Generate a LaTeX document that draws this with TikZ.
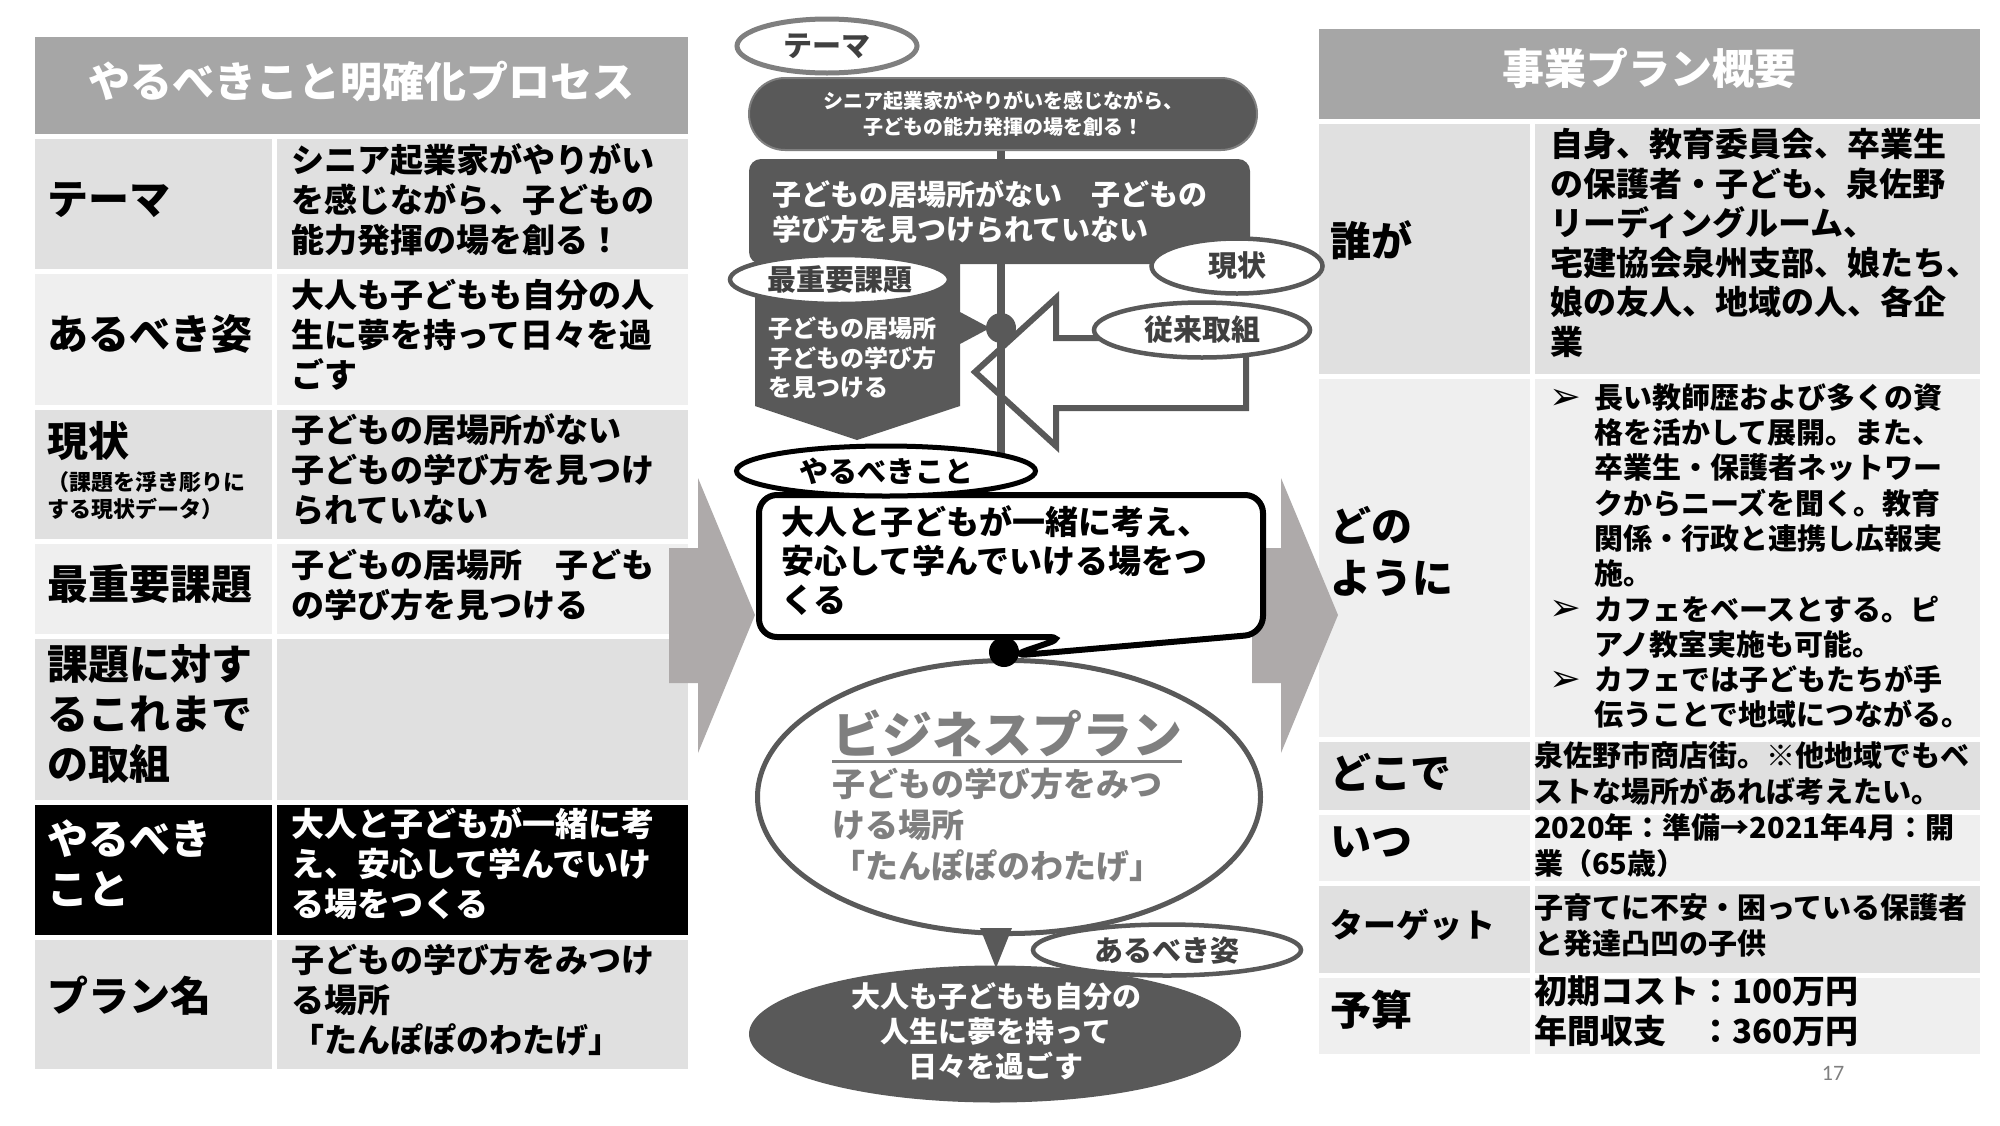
\documentclass[tikz,border=0pt]{standalone}
\usepackage{fontspec}
\setmainfont{Noto Sans CJK JP}
\newfontfamily\dejavu{DejaVu Sans}
\newfontfamily\carlito{Carlito}
\usetikzlibrary{shapes.geometric}
\definecolor{dk}{RGB}{89,89,89}
\definecolor{md}{RGB}{127,127,127}
\definecolor{hdr}{RGB}{166,166,166}
\definecolor{cA}{RGB}{224,224,224}
\definecolor{cB}{RGB}{239,239,239}
\definecolor{arr}{RGB}{174,170,170}
\definecolor{txg}{RGB}{64,64,64}
\newcommand\fsz[2]{\fontsize{#1}{#2}\selectfont\bfseries}
\begin{document}
\begin{tikzpicture}[x=1pt,y=-1pt,
  cell/.style={draw=white, line width=5pt},
  txt/.style={inner sep=0pt, anchor=west, align=left},
  lbl/.style={ellipse, draw=dk, line width=4.5pt, fill=white, inner sep=0pt, text=txg, font=\fsz{29}{34}},
  conn/.style={draw=dk, line width=8pt},
  bigarrow/.style={fill=arr},
  bul/.style={inner sep=0pt, anchor=west, font=\dejavu\fontsize{38}{40}\selectfont},
]
\path[use as bounding box, fill=white] (0,0) rectangle (2000,1125);

% ---------- left table ----------
\path[cell, fill=hdr] (32,34) rectangle (690,136);
\path[cell, fill=cA] (32,136) rectangle (274,271);  \path[cell, fill=cA] (274,136) rectangle (690,271);
\path[cell, fill=cB] (32,271) rectangle (274,407);  \path[cell, fill=cB] (274,271) rectangle (690,407);
\path[cell, fill=cA] (32,407) rectangle (274,541);  \path[cell, fill=cA] (274,407) rectangle (690,541);
\path[cell, fill=cB] (32,541) rectangle (274,636);  \path[cell, fill=cB] (274,541) rectangle (690,636);
\path[cell, fill=cA] (32,636) rectangle (274,802);  \path[cell, fill=cA] (274,636) rectangle (690,802);
\path[cell, fill=black] (32,802) rectangle (274,937); \path[cell, fill=black] (274,802) rectangle (690,937);
\path[cell, fill=cA] (32,937) rectangle (274,1071); \path[cell, fill=cA] (274,937) rectangle (690,1071);

\node[inner sep=0pt, text=white, font=\fsz{42}{48}] (lhead) at (361,81) {やるべきこと明確化プロセス};
\node[txt, font=\fsz{41}{50}] (l1) at (47,200) {テーマ};
\node[txt, font=\fsz{41}{50}] (l2) at (47,334) {あるべき姿};
\node[txt, font=\fsz{41}{50}] (l3) at (47,441) {現状};
\node[txt, font=\fsz{22}{27}] (l3s) at (47,496) {（課題を浮き彫りに\\する現状データ）};
\node[txt, font=\fsz{41}{50}] (l4) at (47,584) {最重要課題};
\node[txt, font=\fsz{41}{50}] (l5) at (47,714) {課題に対す\\るこれまで\\の取組};
\node[txt, font=\fsz{41}{50}, text=white] (l6) at (47,863) {やるべき\\こと};
\node[txt, font=\fsz{41}{50}] (l7) at (47,996) {プラン名};

\node[txt, font=\fsz{33}{40}] (v1) at (291,200) {シニア起業家がやりがい\\を感じながら、子どもの\\能力発揮の場を創る！};
\node[txt, font=\fsz{33}{40}] (v2) at (291,335) {大人も子どもも自分の人\\生に夢を持って日々を過\\ごす};
\node[txt, font=\fsz{33}{40}] (v3) at (291,470) {子どもの居場所がない\\子どもの学び方を見つけ\\られていない};
\node[txt, font=\fsz{33}{40}] (v4) at (291,585) {子どもの居場所　子ども\\の学び方を見つける};
\node[txt, font=\fsz{33}{40}, text=white] (v6) at (291,864) {大人と子どもが一緒に考\\え、安心して学んでいけ\\る場をつくる};
\node[txt, font=\fsz{33}{40}] (v7) at (291,1000) {子どもの学び方をみつけ\\る場所\\「たんぽぽのわたげ」};

% ---------- right table ----------
\path[cell, fill=hdr] (1316,26) rectangle (1982,121);
\path[cell, fill=cA] (1316,121) rectangle (1532,376); \path[cell, fill=cA] (1532,121) rectangle (1982,376);
\path[cell, fill=cB] (1316,376) rectangle (1532,739); \path[cell, fill=cB] (1532,376) rectangle (1982,739);
\path[cell, fill=cA] (1316,739) rectangle (1532,812); \path[cell, fill=cA] (1532,739) rectangle (1982,812);
\path[cell, fill=cB] (1316,812) rectangle (1532,883); \path[cell, fill=cB] (1532,812) rectangle (1982,883);
\path[cell, fill=cA] (1316,883) rectangle (1532,975); \path[cell, fill=cA] (1532,883) rectangle (1982,975);
\path[cell, fill=cB] (1316,975) rectangle (1532,1056); \path[cell, fill=cB] (1532,975) rectangle (1982,1056);

\node[inner sep=0pt, text=white, font=\fsz{42}{48}] (rhead) at (1649,68) {事業プラン概要};
\node[txt, font=\fsz{41}{52}] (r1) at (1330,240) {誰が};
\node[txt, font=\fsz{41}{52}] (r2) at (1330,551) {どの\\ように};
\node[txt, font=\fsz{41}{52}] (r3) at (1330,772) {どこで};
\node[txt, font=\fsz{41}{52}] (r4) at (1330,842) {いつ};
\node[txt, font=\fsz{33}{40}] (r5) at (1330,925) {ターゲット};
\node[txt, font=\fsz{41}{52}] (r6) at (1330,1010) {予算};

\node[txt, font=\fsz{33}{39.6}] (w1) at (1550,243) {自身、教育委員会、卒業生\\の保護者・子ども、泉佐野\\リーディングルーム、\\宅建協会泉州支部、娘たち、\\娘の友人、地域の人、各企\\業};
\node[txt, font=\fsz{29}{35.3}] (w2) at (1594,556) {長い教師歴および多くの資\\格を活かして展開。また、\\卒業生・保護者ネットワー\\クからニーズを聞く。教育\\関係・行政と連携し広報実\\施。\\カフェをベースとする。ピ\\アノ教室実施も可能。\\カフェでは子どもたちが手\\伝うことで地域につながる。};
\node[bul] (b1) at (1549,399) {➢};
\node[bul] (b2) at (1549,610) {➢};
\node[bul] (b3) at (1549,681) {➢};
\node[txt, font=\fsz{29}{36}] (w3) at (1534,773) {泉佐野市商店街。※他地域でもベ\\ストな場所があれば考えたい。};
\node[txt, font=\fsz{29}{36}] (w4) at (1534,846) {2020年：準備→2021年4月：開\\業（65歳）};
\node[txt, font=\fsz{29}{36}] (w5) at (1534,926) {子育てに不安・困っている保護者\\と発達凸凹の子供};
\node[txt, font=\fsz{33}{40}] (w6) at (1534,1011) {初期コスト：100万円\\年間収支　：360万円};
\node[inner sep=0pt, text=md, font=\carlito\fontsize{22}{24}\selectfont] (pnum) at (1833,1073) {17};

% ---------- big gray arrows ----------
\path[bigarrow] (669,548) -- (698,548) -- (698,478) -- (755,615) -- (698,753) -- (698,683) -- (669,683) -- cycle;
\path[bigarrow] (1252,548) -- (1281,548) -- (1281,478) -- (1338,615) -- (1281,753) -- (1281,683) -- (1252,683) -- cycle;

% ---------- middle flow ----------
\coordinate (jc) at (1001,328);
% outlined arrow (従来取組 -> junction)
\draw[fill=white, draw=dk, line width=6pt, line join=miter]
  (975,372) -- (1056,298) -- (1056,338) -- (1246,338) -- (1246,408) -- (1056,408) -- (1056,446) -- cycle;

\node[rounded corners=36pt, fill=dk, draw=md, line width=2pt, minimum width=508pt, minimum height=72pt, inner sep=0pt,
      text=white, align=center, font=\fsz{20}{26}] (temaBox) at (1003,114) {シニア起業家がやりがいを感じながら、\\子どもの能力発揮の場を創る！};
\node[lbl, draw=md, line width=5pt, minimum width=180pt, minimum height=54pt] (temaL) at (827,46) {テーマ};

\coordinate (yaruC) at (886,471);
\path[conn] (temaBox.south -| jc) -- (jc |- yaruC);

\node[rounded corners=12pt, fill=dk, minimum width=501pt, minimum height=105pt, inner xsep=23pt, inner ysep=0pt,
      text width=455pt, align=left, text=white, font=\fsz{29}{35}] (genBox) at (999.5,211.5) {子どもの居場所がない　子どもの\\学び方を見つけられていない};

\path[fill=dk] (755,262) -- (960,262) -- (960,312) -- (990,328) -- (960,344) -- (960,406) -- (857,440) -- (755,406) -- cycle;
\node[txt, text=white, font=\fsz{24}{29.5}] (kadaiT) at (768,358) {子どもの居場所\\子どもの学び方\\を見つける};
\node[circle, fill=dk, minimum size=30pt, inner sep=0pt] (junc) at (jc) {};

\node[lbl, minimum width=219pt, minimum height=49pt] (saiL) at (839.5,279.5) {最重要課題};
\node[lbl, minimum width=171pt, minimum height=55pt] (genL) at (1237,266) {現状};
\node[lbl, minimum width=216pt, minimum height=55pt] (juuL) at (1202,330) {従来取組};

% speech bubble
\draw[fill=white, draw=black, line width=6pt, rounded corners=18pt]
  (759,495) -- (1263,495) -- (1263,634) -- (1010,656) -- (1066,637) -- (759,637) -- cycle;
\node[ellipse, draw=black, line width=5pt, fill=white, inner sep=0pt, minimum width=299pt, minimum height=50pt, font=\fsz{29}{34}] (yaruL) at (yaruC) {やるべきこと};
\node[txt, font=\fsz{33}{39}] (bubT) at (781,561) {大人と子どもが一緒に考え、\\安心して学んでいける場をつ\\くる};

\coordinate (dotC) at (1004,652);
\coordinate (bigC) at (1009,797);
\path[conn, line width=6pt] (dotC) -- (dotC |- bigC);
\node[ellipse, draw=dk, line width=5pt, fill=white, inner sep=0pt, minimum width=503pt, minimum height=273pt] (bigE) at (bigC) {};
\node[circle, fill=black, minimum size=30pt, inner sep=0pt] (dot) at (dotC) {};

\node[inner sep=0pt, anchor=west, text=md, font=\fsz{50}{56}] (bpT) at (832,733) {ビジネスプラン};
\draw[md, line width=3pt] ([yshift=-5pt]bpT.south west) -- ([yshift=-5pt]bpT.south east);
\node[txt, text=md, font=\fsz{33}{41}] (bpS) at (832,825) {子どもの学び方をみつ\\ける場所\\「たんぽぽのわたげ」};

\node[ellipse, fill=dk, inner sep=0pt, minimum width=492pt, minimum height=137pt] (darkE) at (995,1034) {};
\path[fill=dk] (980,928) -- (1012,928) -- (996,968) -- cycle;
\node[inner sep=0pt, align=center, text=white, font=\fsz{29}{35}] (darkT) at (996,1031) {大人も子どもも自分の\\人生に夢を持って\\日々を過ごす};
\node[lbl, minimum width=268pt, minimum height=51pt] (aruL) at (1167,950) {あるべき姿};
\end{tikzpicture}
\end{document}
